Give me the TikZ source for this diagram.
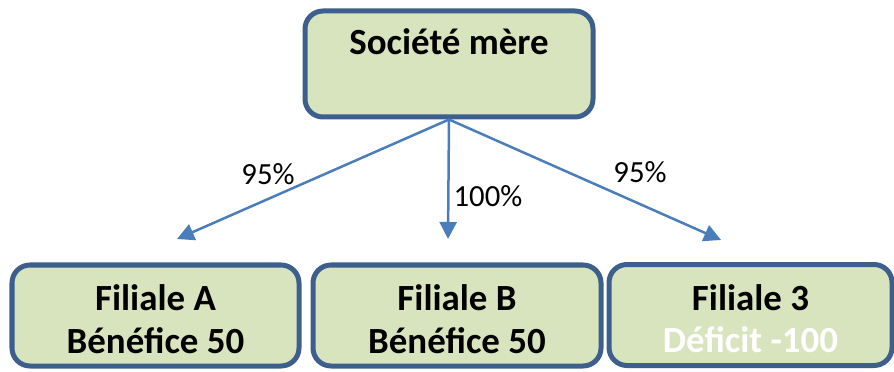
\documentclass[tikz,border=0pt]{standalone}
\usepackage{fontspec}
\setmainfont{Carlito}
\usepackage{tikz}
\usetikzlibrary{positioning}
\usetikzlibrary{arrows.meta}
\pgfdeclarelayer{nodelayer}
\pgfdeclarelayer{edgelayer}
\pgfsetlayers{nodelayer,edgelayer,main}
\definecolor{boxfill}{HTML}{D7E4BD}
\definecolor{boxline}{HTML}{3C5F8E}
\definecolor{lienblue}{HTML}{4A7EBB}
\tikzset{
    societe/.style = {draw=boxline, fill=boxfill, line width=0.1cm, rounded corners=0.36cm,
        inner sep=0pt, align=center, font=\fontsize{21}{24}\selectfont\bfseries},
    filiale/.style = {societe, text height=1.76cm, text depth=0.26cm},
    pct/.style = {inner sep=0pt, font=\fontsize{17.5}{21}\selectfont},
    lien/.style = {draw=lienblue, line width=0.05cm, -{Triangle[length=0.34cm,width=0.34cm]}}
}

\begin{document}
\begin{tikzpicture}
    \useasboundingbox (0, 0) rectangle (17.88, 7.42);
    \begin{pgfonlayer}{nodelayer}
        \node [societe, minimum width=5.76cm, text height=0.88cm, text depth=1.24cm] (mere) at (8.98, 6.14) {Société mère};
        \node [filiale, minimum width=5.74cm] (filA) at (3.11, 1.11) {Filiale A\\Bénéfice 50};
        \node [filiale, minimum width=5.76cm] (filB) at (9.14, 1.11) {Filiale B\\Bénéfice 50};
        \node [filiale, minimum width=5.66cm] (fil3) at (15.01, 1.12) {Filiale 3\\\textcolor{white}{Déficit -100}};
        \coordinate (tipA) at (3.54, 2.64);
        \coordinate (tipB) at (8.96, 2.64);
        \coordinate (tip3) at (14.42, 2.62);
        \node [pct] (pA) at (5.36, 3.94) {95\%};
        \node [pct] (pB) at (9.76, 3.50) {100\%};
        \node [pct] (p3) at (12.80, 3.98) {95\%};
    \end{pgfonlayer}
    \begin{pgfonlayer}{edgelayer}
        % Fleches de participation
        \draw [lien] (mere.south) to (tipA);
        \draw [lien] (mere.south) to (tipB);
        \draw [lien] (mere.south) to (tip3);
    \end{pgfonlayer}
\end{tikzpicture}
\end{document}
